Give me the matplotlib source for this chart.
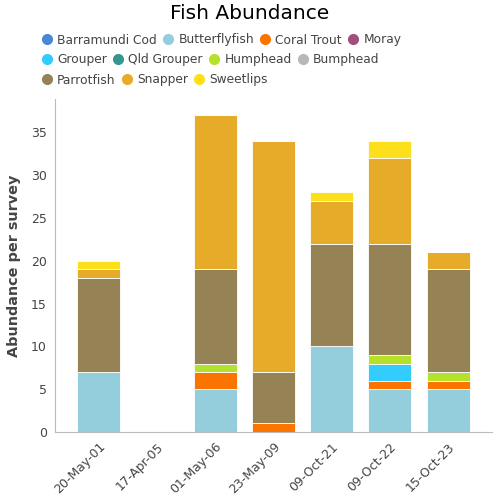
import matplotlib
matplotlib.use("Agg")
import matplotlib.pyplot as plt
from matplotlib.lines import Line2D
import numpy as np

dates = ["20-May-01", "17-Apr-05", "01-May-06", "23-May-09", "09-Oct-21", "09-Oct-22", "15-Oct-23"]
species = ["Barramundi Cod", "Butterflyfish", "Coral Trout", "Moray", "Grouper", "Qld Grouper",
           "Humphead", "Bumphead", "Parrotfish", "Snapper", "Sweetlips"]
colors = ["#4a88d6", "#94cddb", "#fc7400", "#a24f7c", "#33ccff", "#359590",
          "#b5e02c", "#b8b8b8", "#958356", "#e6ab29", "#fde01b"]

barramundi = [0, 0, 0, 0, 0, 0, 0]
butterflyfish = [7, 0, 5, 0, 10, 5, 5]
coral_trout = [0, 0, 2, 1, 0, 1, 1]
moray = [0, 0, 0, 0, 0, 0, 0]
grouper = [0, 0, 0, 0, 0, 2, 0]
qld_grouper = [0, 0, 0, 0, 0, 0, 0]
humphead = [0, 0, 1, 0, 0, 1, 1]
bumphead = [0, 0, 0, 0, 0, 0, 0]
parrotfish = [11, 0, 11, 6, 12, 13, 12]
snapper = [1, 0, 18, 27, 5, 10, 2]
sweetlips = [1, 0, 0, 0, 1, 2, 0]

series = [barramundi, butterflyfish, coral_trout, moray, grouper, qld_grouper,
          humphead, bumphead, parrotfish, snapper, sweetlips]

text_col = "#444444"
fig = plt.figure(figsize=(5, 5), dpi=100)
ax = fig.add_axes([0.11, 0.136, 0.874, 0.666])

x = np.arange(len(dates))
bottom = np.zeros(len(dates))
for name, vals, c in zip(species, series, colors):
    vals = np.array(vals, dtype=float)
    ax.bar(x, vals, bottom=bottom, width=0.74, color=c, edgecolor="white", linewidth=0.6)
    bottom += vals

ax.set_xlim(-0.755, 6.755)
ax.set_ylim(0, 38.9)
ax.set_yticks([0, 5, 10, 15, 20, 25, 30, 35])
ax.set_xticks(x)
ax.set_xticklabels(dates, rotation=45, ha="right", rotation_mode="anchor")
ax.tick_params(axis="both", length=0, labelsize=9, colors=text_col, pad=6)
for s in ["top", "right"]:
    ax.spines[s].set_visible(False)
ax.spines["bottom"].set_color("#bbbbbb")
ax.spines["left"].set_color("#bbbbbb")
ax.set_ylabel("Abundance per survey", fontsize=10.4, fontweight="bold", color=text_col, labelpad=7)

fig.suptitle("Fish Abundance", fontsize=14.5, y=0.992, color="black")

rows = [species[0:4], species[4:8], species[8:11]]
ys = [0.92, 0.88, 0.84]
for row, yy in zip(rows, ys):
    handles = [Line2D([], [], marker="o", linestyle="", markersize=7,
                      color=colors[species.index(n)]) for n in row]
    fig.legend(handles, row, loc="center left", bbox_to_anchor=(0.079, yy), ncol=len(row),
               frameon=False, fontsize=8.8, handletextpad=0.25, columnspacing=0.3,
               handlelength=1.2, borderpad=0, borderaxespad=0, labelcolor=text_col)

fig.savefig("out.png", dpi=100)
plt.close(fig)
